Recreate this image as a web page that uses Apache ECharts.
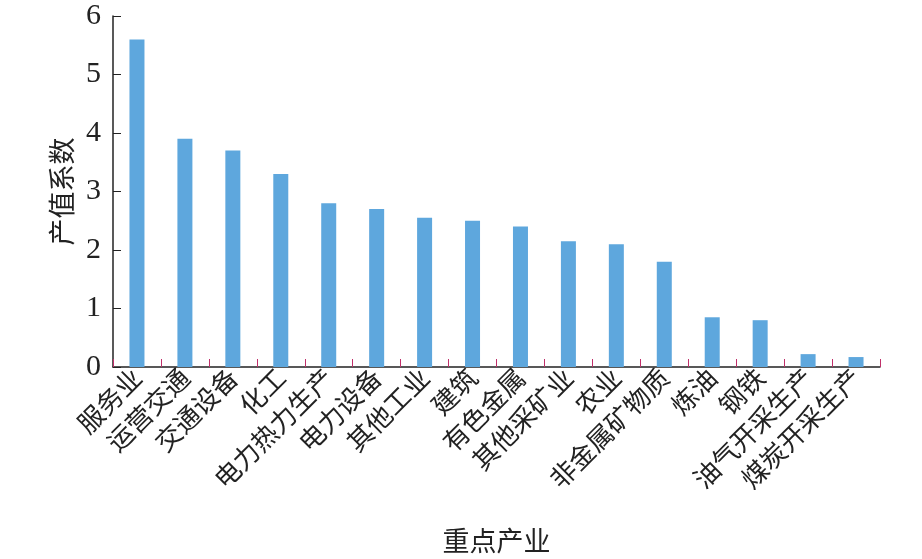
<!DOCTYPE html>
<html><head><meta charset="utf-8">
<script src="https://cdn.jsdelivr.net/npm/echarts@6/dist/echarts.min.js"></script>
<style>html,body{margin:0;padding:0;background:#fff}#c{width:922px;height:559px}</style>
</head><body><div id="c"></div>
<script>
const categories = ['服务业','运营交通','交通设备','化工','电力热力生产','电力设备','其他工业','建筑','有色金属','其他采矿业','农业','非金属矿物质','炼油','钢铁','油气开采生产','煤炭开采生产'];
const values = [5.6, 3.9, 3.7, 3.3, 2.8, 2.7, 2.55, 2.5, 2.4, 2.15, 2.1, 1.8, 0.85, 0.8, 0.22, 0.17];
const xName = '重点产业';
const yName = '产值系数';

const chart = echarts.init(document.getElementById('c'));
chart.setOption({
  animation: false,
  grid: {left: 113, right: 42, top: 16, bottom: 191},
  xAxis: {
    type: 'category', data: categories,
    name: xName, nameLocation: 'middle', nameGap: 160,
    nameTextStyle: {fontFamily: 'Noto Sans CJK SC', fontSize: 27, color: '#222'},
    axisLine: {lineStyle: {color: '#222', width: 1.5}},
    axisTick: {show: true, inside: true, length: 8, alignWithLabel: false, lineStyle: {color: '#c0306a', width: 1}},
    axisLabel: {rotate: 45, interval: 0, margin: 6, fontFamily: 'Noto Sans CJK SC', fontSize: 26, color: '#222'}
  },
  yAxis: {
    type: 'value', min: 0, max: 6, interval: 1,
    name: yName, nameLocation: 'middle', nameGap: 38, nameRotate: 90,
    nameTextStyle: {fontFamily: 'Noto Sans CJK SC', fontSize: 27, color: '#222'},
    axisLine: {show: true, lineStyle: {color: '#222', width: 1.5}},
    axisTick: {show: true, inside: true, length: 8, lineStyle: {color: '#222'}},
    splitLine: {show: false},
    axisLabel: {margin: 12, fontFamily: 'Liberation Serif', fontSize: 30, color: '#222'}
  },
  series: [{
    type: 'bar', data: values, barWidth: 15,
    itemStyle: {color: '#5ea7dd'}
  }]
});
</script></body></html>
